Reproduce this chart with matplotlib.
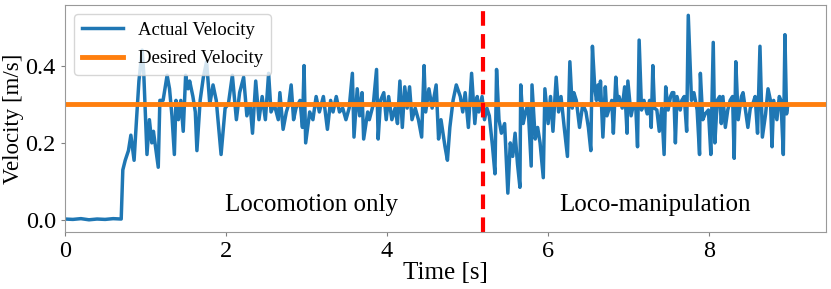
import matplotlib
matplotlib.use('Agg')
import matplotlib.pyplot as plt

plt.rcParams['font.family'] = 'Liberation Serif'

# velocity samples (time [s], velocity [m/s])
time = [0.0, 0.1, 0.2, 0.3, 0.4, 0.5, 0.6, 0.7, 0.72,
        0.75, 0.79, 0.82, 0.86, 0.89, 0.92, 0.96, 0.98, 1.02, 1.05, 1.08, 1.10,
        1.16, 1.18, 1.22, 1.27, 1.30, 1.33, 1.36, 1.38, 1.41, 1.44, 1.47, 1.50,
        1.53, 1.55, 1.59, 1.62, 1.64, 1.68, 1.72, 1.76, 1.80, 1.84, 1.88, 1.94,
        1.99, 2.03, 2.08, 2.13, 2.17, 2.22, 2.26, 2.30, 2.33, 2.37, 2.41, 2.45,
        2.49, 2.53, 2.56, 2.60, 2.65, 2.67, 2.71, 2.75, 2.78, 2.81, 2.84, 2.87,
        2.92, 2.95, 2.97, 2.99, 3.04, 3.08, 3.12, 3.16, 3.21, 3.26, 3.30, 3.33,
        3.37, 3.41, 3.45, 3.49, 3.53, 3.57, 3.59, 3.63, 3.66, 3.69, 3.71, 3.76,
        3.78, 3.83, 3.87, 3.89, 3.92, 3.96, 3.99, 4.02, 4.06, 4.10, 4.13, 4.16,
        4.19, 4.22, 4.25, 4.28, 4.31, 4.35, 4.39, 4.43, 4.46, 4.48, 4.52, 4.56,
        4.61, 4.64, 4.67, 4.72, 4.75, 4.78, 4.82, 4.86, 4.91, 4.94, 4.97, 5.01,
        5.05, 5.09, 5.12, 5.14, 5.18, 5.21, 5.24, 5.27, 5.31, 5.34, 5.36, 5.39,
        5.42, 5.46, 5.50, 5.53, 5.56, 5.59, 5.62, 5.65, 5.66, 5.69, 5.72, 5.75,
        5.79, 5.80, 5.84, 5.87, 5.90, 5.94, 5.96, 6.00, 6.03, 6.06, 6.10, 6.13,
        6.16, 6.20, 6.24, 6.27, 6.30, 6.32, 6.35, 6.39, 6.43, 6.47, 6.50, 6.53,
        6.55, 6.58, 6.60, 6.62, 6.64, 6.65, 6.68, 6.71, 6.73, 6.76, 6.79, 6.81,
        6.84, 6.86, 6.88, 6.92, 6.95, 6.98, 6.99, 7.03, 7.06, 7.09, 7.11, 7.13,
        7.16, 7.19, 7.23, 7.26, 7.28, 7.30, 7.32, 7.35, 7.38, 7.41, 7.44, 7.46,
        7.49, 7.52, 7.54, 7.56, 7.58, 7.60, 7.64, 7.66, 7.69, 7.72, 7.74, 7.78,
        7.81, 7.85, 7.88, 7.89, 7.92, 7.95, 7.99, 8.02, 8.05, 8.07, 8.10, 8.13,
        8.15, 8.17, 8.20, 8.23, 8.26, 8.29, 8.31, 8.33, 8.36, 8.40, 8.42, 8.45,
        8.48, 8.51, 8.54, 8.57, 8.60, 8.63, 8.66, 8.70, 8.73, 8.76, 8.78, 8.80,
        8.84, 8.87, 8.89, 8.92, 8.94, 8.96, 8.97]
velocity = [0.003, 0.002, 0.004, 0.001, 0.003, 0.002, 0.004, 0.003, 0.13,
            0.155, 0.18, 0.22, 0.155, 0.26, 0.36, 0.44, 0.38, 0.17, 0.26, 0.20, 0.23,
            0.137, 0.31, 0.31, 0.375, 0.34, 0.27, 0.17, 0.31, 0.26, 0.31, 0.23, 0.375,
            0.34, 0.36, 0.32, 0.28, 0.18, 0.31, 0.37, 0.41, 0.30, 0.35, 0.31, 0.17,
            0.29, 0.30, 0.375, 0.26, 0.33, 0.37, 0.27, 0.30, 0.225, 0.36, 0.26, 0.32,
            0.26, 0.38, 0.28, 0.30, 0.26, 0.33, 0.235, 0.28, 0.30, 0.35, 0.26, 0.29,
            0.31, 0.24, 0.40, 0.20, 0.28, 0.26, 0.32, 0.28, 0.32, 0.235, 0.31, 0.28,
            0.32, 0.28, 0.29, 0.26, 0.29, 0.38, 0.215, 0.34, 0.27, 0.33, 0.21, 0.28,
            0.26, 0.30, 0.39, 0.21, 0.31, 0.33, 0.26, 0.32, 0.26, 0.29, 0.25, 0.36,
            0.24, 0.345, 0.29, 0.345, 0.26, 0.29, 0.26, 0.215, 0.40, 0.28, 0.34, 0.29,
            0.35, 0.21, 0.26, 0.19, 0.155, 0.24, 0.31, 0.35, 0.32, 0.28, 0.33, 0.24,
            0.38, 0.25, 0.32, 0.28, 0.32, 0.26, 0.29, 0.27, 0.19, 0.12, 0.39, 0.26,
            0.225, 0.25, 0.07, 0.20, 0.165, 0.225, 0.145, 0.085, 0.35, 0.25, 0.28, 0.30,
            0.14, 0.35, 0.21, 0.24, 0.20, 0.11, 0.34, 0.25, 0.32, 0.23, 0.37, 0.28,
            0.32, 0.24, 0.165, 0.41, 0.29, 0.33, 0.31, 0.24, 0.30, 0.28, 0.24, 0.18,
            0.45, 0.34, 0.31, 0.35, 0.31, 0.36, 0.215, 0.345, 0.27, 0.29, 0.31, 0.225,
            0.37, 0.31, 0.32, 0.29, 0.345, 0.225, 0.36, 0.27, 0.30, 0.285, 0.19, 0.466,
            0.285, 0.31, 0.275, 0.31, 0.24, 0.40, 0.29, 0.285, 0.23, 0.29, 0.17, 0.345,
            0.285, 0.32, 0.33, 0.33, 0.20, 0.32, 0.285, 0.31, 0.32, 0.23, 0.53, 0.31,
            0.33, 0.285, 0.17, 0.38, 0.26, 0.275, 0.285, 0.17, 0.46, 0.20, 0.31, 0.32,
            0.25, 0.32, 0.24, 0.285, 0.31, 0.32, 0.16, 0.41, 0.26, 0.32, 0.33, 0.285,
            0.24, 0.29, 0.30, 0.32, 0.225, 0.45, 0.215, 0.275, 0.34, 0.31, 0.19, 0.31,
            0.26, 0.32, 0.31, 0.17, 0.48, 0.275, 0.29]

desired_velocity = 0.3
switch_time = 5.19

fig, ax = plt.subplots(figsize=(8.31, 2.89), dpi=100)
fig.subplots_adjust(left=0.078, right=0.994, top=0.983, bottom=0.198)

ax.plot(time, velocity, color='#1f77b4', linewidth=2.5, label='Actual Velocity')
ax.axhline(desired_velocity, color='#ff7f0e', linewidth=3.5, label='Desired Velocity')
ax.axvline(switch_time, color='red', linestyle='--', linewidth=3, dashes=(3.5, 2))

ax.text(3.06, 0.04, 'Locomotion only', fontsize=18, ha='center', va='center')
ax.text(7.33, 0.04, 'Loco-manipulation', fontsize=18, ha='center', va='center')

ax.set_xlim(0, 9.45)
ax.set_ylim(-0.03, 0.557)
ax.set_xticks([0, 2, 4, 6, 8])
ax.set_yticks([0.0, 0.2, 0.4])
ax.tick_params(labelsize=17.5, color='0.5', length=3)
for sp in ax.spines.values():
    sp.set_color('0.6')
ax.set_xlabel('Time [s]', fontsize=18, labelpad=0)
ax.set_ylabel('Velocity [m/s]', fontsize=16.5, labelpad=1)
ax.legend(loc='upper left', fontsize=13.5, handlelength=2.2, labelspacing=0.6)

plt.savefig('out.png')
